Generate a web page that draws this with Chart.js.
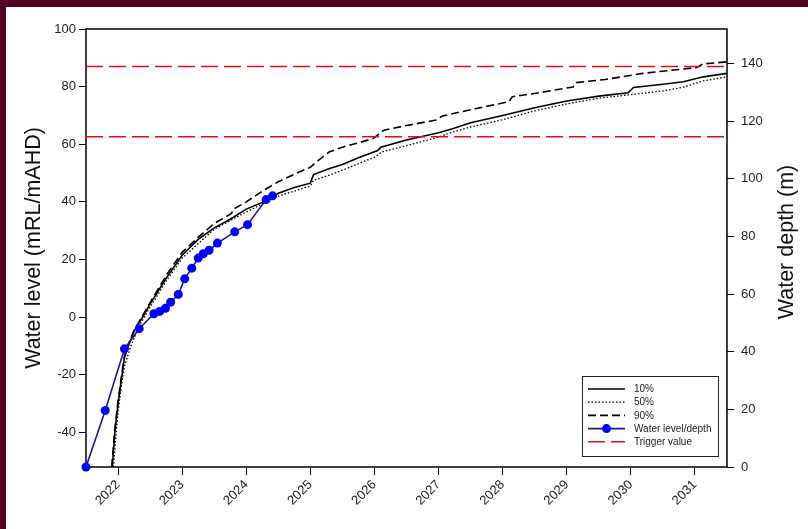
<!DOCTYPE html>
<html><head><meta charset="utf-8">
<script src="https://cdn.jsdelivr.net/npm/chart.js@4.4.0/dist/chart.umd.min.js"></script>
<style>html,body{margin:0;padding:0;background:#fff;}#wrap{width:808px;height:529px;position:relative;}canvas{display:block;}</style>
</head><body><div id="wrap"><canvas id="c" width="808" height="529" style="width:808px;height:529px"></canvas></div>
<script>
// ---- data ----
const xTickYears = [2022, 2023, 2024, 2025, 2026, 2027, 2028, 2029, 2030, 2031];
const levelTicks = [-40, -20, 0, 20, 40, 60, 80, 100];
const depthTicks = [0, 20, 40, 60, 80, 100, 120, 140];

const p10Years = [2021.91, 2021.95, 2022.0, 2022.05, 2022.10, 2022.16, 2022.25, 2022.33, 2022.5, 2022.75, 2023.0, 2023.25, 2023.5, 2023.75, 2024.0, 2024.27, 2024.5, 2024.75, 2025.0, 2025.05, 2025.3, 2025.5, 2025.75, 2026.05, 2026.1, 2026.5, 2027.0, 2027.23, 2027.5, 2028.0, 2028.5, 2029.0, 2029.5, 2029.96, 2030.04, 2030.5, 2030.82, 2031.13, 2031.5];
const p10Levels = [-52, -40, -30, -22, -14, -10, -5, -2, 4.5, 13.5, 21.5, 27, 31, 34, 37.5, 40, 43, 45, 46.5, 49.5, 51.6, 53, 55.3, 57.8, 59, 61.5, 64, 65.5, 67.5, 70, 72.7, 75, 76.7, 77.9, 79.7, 80.8, 81.7, 83.4, 84.6];

const p50Years = [2021.93, 2021.97, 2022.0, 2022.05, 2022.1, 2022.2, 2022.33, 2022.5, 2022.75, 2023.0, 2023.5, 2024.0, 2024.5, 2025.0, 2025.05, 2025.3, 2025.5, 2026.0, 2026.12, 2026.5, 2027.0, 2027.23, 2027.5, 2028.0, 2028.48, 2029.0, 2029.5, 2030.04, 2030.5, 2030.82, 2031.13, 2031.5];
const p50Levels = [-52, -40, -33, -24, -17, -10, -3, 3.5, 12.5, 20.5, 30.5, 36.5, 42, 45.5, 47.5, 49.3, 51, 55.5, 57.4, 59.5, 62.5, 64.3, 66, 68.5, 71.5, 74, 76, 77.3, 78.5, 79.8, 82, 83.4];

const p90Years = [2021.90, 2021.95, 2022.0, 2022.05, 2022.1, 2022.16, 2022.25, 2022.33, 2022.5, 2022.75, 2023.0, 2023.28, 2023.5, 2023.77, 2023.80, 2024.0, 2024.27, 2024.5, 2024.84, 2025.0, 2025.1, 2025.23, 2025.3, 2025.5, 2025.75, 2025.98, 2026.15, 2026.5, 2026.96, 2027.06, 2027.5, 2028.1, 2028.15, 2028.6, 2029.1, 2029.15, 2029.6, 2030.19, 2030.6, 2031.02, 2031.13, 2031.5];
const p90Levels = [-52, -39, -29, -21, -13.5, -9.5, -4.5, -1.5, 5, 14.5, 22.5, 28.3, 32.5, 36, 37.5, 40, 44, 47, 50.5, 52, 54, 56.2, 57.4, 59, 60.5, 62, 64.9, 66.5, 68.4, 69.8, 72, 74.8, 76.5, 78, 79.9, 81.4, 82.5, 84.6, 85.6, 86.6, 87.9, 88.6];

const wlYears = [2021.5, 2021.8, 2022.1, 2022.33, 2022.56, 2022.65, 2022.74, 2022.82, 2022.94, 2023.04, 2023.15, 2023.25, 2023.33, 2023.42, 2023.55, 2023.82, 2024.02, 2024.31, 2024.41];
const wlLevels = [-52, -32.4, -11, -4, 1.2, 2.0, 3.1, 5.2, 7.9, 13.3, 17.0, 20.5, 22.0, 23.2, 25.7, 29.6, 32.1, 40.8, 42.1];

const triggerLevels = [87, 62.6];
const xRange = [2021.5, 2031.5];
const levelRange = [-52, 100];
const depthRange = [0, 152];

// ---- build ----
const zip = (xs, ys) => xs.map((x, i) => ({x: x, y: ys[i]}));
const FONT = "'Liberation Sans', Arial, sans-serif";

const datasets = [
  {label: '10%', data: zip(p10Years, p10Levels), borderColor: '#000', borderWidth: 1.6, borderDash: [], pointRadius: 0, order: 3},
  {label: '50%', data: zip(p50Years, p50Levels), borderColor: '#000', borderWidth: 1.3, borderDash: [1.5, 2], pointRadius: 0, order: 3},
  {label: '90%', data: zip(p90Years, p90Levels), borderColor: '#000', borderWidth: 1.6, borderDash: [8, 4], pointRadius: 0, order: 3},
  {label: 'Water level/depth', data: zip(wlYears, wlLevels), borderColor: '#16169a', borderWidth: 1.6, pointRadius: 4.5, pointBackgroundColor: '#0000ff', pointBorderWidth: 0, clip: false, order: 0}
];
triggerLevels.forEach((lv, i) => {
  datasets.push({label: i === 0 ? 'Trigger value' : '', data: zip(xRange, [lv, lv]), borderColor: '#e01010', borderWidth: 1.6, borderDash: [17, 6], pointRadius: 0, order: 1});
});

const framePlugin = {
  id: 'frame',
  beforeDatasetsDraw(chart) {
    const {ctx, chartArea: a} = chart;
    ctx.save();
    ctx.strokeStyle = '#000';
    ctx.lineWidth = 1.5;
    ctx.strokeRect(a.left, a.top, a.right - a.left, a.bottom - a.top);
    ctx.restore();
  },
  afterDraw(chart) {
    const {ctx, chartArea: a} = chart;
    ctx.save();
    // page border
    ctx.fillStyle = '#550021';
    ctx.fillRect(0, 0, chart.width, 7);
    ctx.fillRect(0, 0, 6, chart.height);
    // right axis title
    ctx.fillStyle = '#111';
    ctx.font = '21.5px ' + FONT;
    ctx.textAlign = 'center';
    ctx.textBaseline = 'middle';
    ctx.translate(787, (a.top + a.bottom) / 2 - 6);
    ctx.rotate(-Math.PI / 2);
    ctx.fillText('Water depth (m)', 0, 0);
    ctx.restore();
  }
};

const legendPlugin = {
  id: 'boxLegend',
  afterDatasetsDraw(chart) {
    const {ctx, chartArea: a} = chart;
    const w = 136, h = 80;
    const x0 = a.right - 9 - w, y0 = a.bottom - 11 - h;
    ctx.save();
    ctx.fillStyle = '#fff';
    ctx.fillRect(x0, y0, w, h);
    ctx.strokeStyle = '#222';
    ctx.lineWidth = 1;
    ctx.strokeRect(x0 + 0.5, y0 + 0.5, w, h);
    const items = chart.data.datasets.filter(d => d.label);
    ctx.font = '10px ' + FONT;
    ctx.textBaseline = 'middle';
    ctx.textAlign = 'left';
    items.forEach((d, i) => {
      const y = y0 + 13 + i * 13.2;
      ctx.beginPath();
      ctx.setLineDash(d.borderDash || []);
      ctx.strokeStyle = d.borderColor;
      ctx.lineWidth = d.borderWidth;
      ctx.moveTo(x0 + 6, y);
      ctx.lineTo(x0 + 43, y);
      ctx.stroke();
      ctx.setLineDash([]);
      if (d.pointRadius) {
        ctx.beginPath();
        ctx.fillStyle = d.pointBackgroundColor;
        ctx.arc(x0 + 24.5, y, d.pointRadius, 0, Math.PI * 2);
        ctx.fill();
      }
      ctx.fillStyle = '#222';
      ctx.fillText(d.label, x0 + 52, y + 0.5);
    });
    ctx.restore();
  }
};

new Chart(document.getElementById('c'), {
  type: 'line',
  data: {datasets: datasets},
  plugins: [framePlugin, legendPlugin],
  options: {
    responsive: false,
    animation: false,
    layout: {padding: {top: 29, left: 0, right: 0, bottom: 0}},
    elements: {line: {tension: 0, fill: false}},
    plugins: {legend: {display: false}, tooltip: {enabled: false}},
    scales: {
      x: {
        type: 'linear', position: 'bottom', min: xRange[0], max: xRange[1],
        afterBuildTicks: s => { s.ticks = xTickYears.map(v => ({value: v})); },
        afterFit: s => { s.height = 62; },
        ticks: {autoSkip: false, minRotation: 45, maxRotation: 45, padding: 2, color: '#222', font: {family: FONT, size: 13}, callback: v => String(v)},
        grid: {display: true, drawOnChartArea: false, drawTicks: true, tickLength: 8, color: '#000', lineWidth: 1},
        border: {display: false}
      },
      y: {
        type: 'linear', position: 'left', min: levelRange[0], max: levelRange[1],
        afterBuildTicks: s => { s.ticks = levelTicks.map(v => ({value: v})); },
        afterFit: s => { s.width = 86; },
        ticks: {padding: 3, color: '#222', font: {family: FONT, size: 13}},
        grid: {display: true, drawOnChartArea: false, drawTicks: true, tickLength: 7, color: '#000', lineWidth: 1},
        border: {display: false},
        title: {display: true, text: 'Water level (mRL/mAHD)', color: '#111', font: {family: FONT, size: 21.5}, padding: {top: 21, bottom: 0}}
      },
      y2: {
        type: 'linear', position: 'right', min: depthRange[0], max: depthRange[1],
        afterBuildTicks: s => { s.ticks = depthTicks.map(v => ({value: v})); },
        afterFit: s => { s.width = 81; },
        ticks: {padding: 7, color: '#222', font: {family: FONT, size: 13}},
        grid: {display: true, drawOnChartArea: false, drawTicks: true, tickLength: 7, color: '#000', lineWidth: 1},
        border: {display: false}
      }
    }
  }
});
</script></body></html>
